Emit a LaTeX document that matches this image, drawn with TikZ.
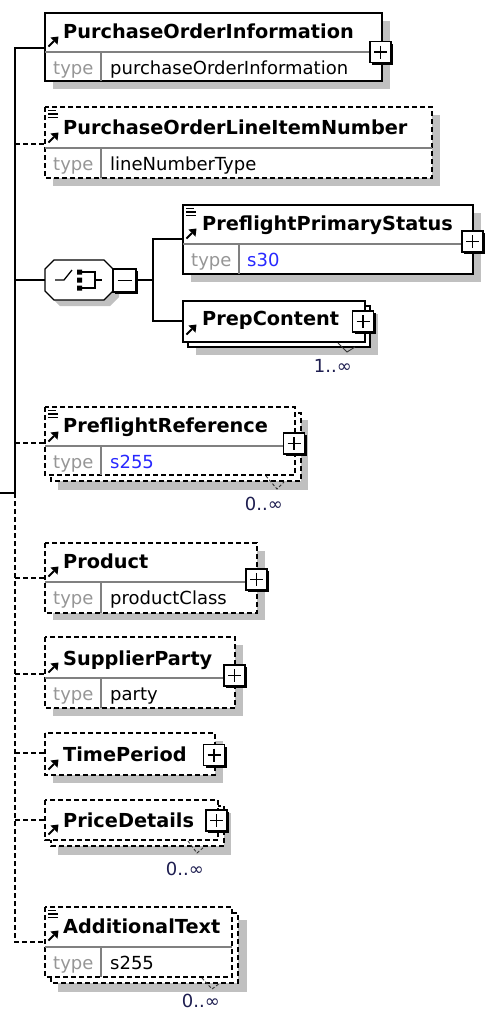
\documentclass[tikz,border=0pt]{standalone}
\usepackage{fontspec}
\setmainfont{DejaVu Sans}
\definecolor{shadowc}{RGB}{192,192,192}
\definecolor{typec}{RGB}{150,150,150}
\definecolor{divc}{RGB}{128,128,128}
\definecolor{bluev}{RGB}{40,40,255}
\definecolor{multc}{RGB}{30,30,80}
\tikzset{
 shad/.style={fill=shadowc, draw=none},
 sbox/.style={draw=black, fill=white, line width=1.4pt},
 dbox/.style={sbox, dash pattern=on 5pt off 3pt},
 divl/.style={draw=divc, line width=1.1pt},
 conn/.style={draw=black, line width=1.3pt},
 dconn/.style={conn, dash pattern=on 5pt off 3pt},
 ttl/.style={font=\fontsize{19.3}{22}\selectfont\bfseries, anchor=base west, inner sep=0pt},
 tlab/.style={font=\fontsize{18}{20}\selectfont, text=typec, anchor=base west, inner sep=0pt},
 tval/.style={font=\fontsize{18}{20}\selectfont, anchor=base west, inner sep=0pt},
 mult/.style={font=\fontsize{18}{20}\selectfont, text=multc, anchor=base east, inner sep=0pt},
 vmark/.style={draw=black!80, line width=0.9pt},
 plusbox/.pic={
   \fill[black] (-8.5,-8.5) rectangle (12.5,12.5);
   \filldraw[fill=white,draw=black,line width=1.3pt] (-10.5,-10.5) rectangle (10.5,10.5);
   \draw[line width=1.5pt] (-6.5,0)--(6.5,0) (0,-6.5)--(0,6.5);
 },
 minusbox/.pic={
   \fill[black] (-9.5,-9.5) rectangle (13.5,13.5);
   \filldraw[fill=white,draw=black,line width=1.3pt] (-11.5,-11.5) rectangle (11.5,11.5);
   \draw[line width=1.5pt] (-7,0)--(7,0);
 },
 arricon/.pic={
   \draw[line width=2pt] (3.5,-1.5) -- (9,-7);
   \fill (13.5,-11.5) -- (5.5,-10.5) -- (12.5,-3.5) -- cycle;
 },
 docicon/.pic={
   \draw[line width=1.1pt] (3,3.5)--(11,3.5) (3,7)--(13,7) (3,10.5)--(13,10.5);
 },
}
\begin{document}
\begin{tikzpicture}[x=1pt,y=-1pt]
\fill[white] (0,0) rectangle (486,1010);
\useasboundingbox (0,0) rectangle (486,1010);

% ---------- trunk coordinates ----------
\coordinate (parent) at (0,493);
\coordinate (t1) at (15,48);
\coordinate (t2) at (15,144);
\coordinate (t3) at (15,280);
\coordinate (tmid) at (15,493);
\coordinate (t6) at (15,443);
\coordinate (t7) at (15,578);
\coordinate (t8) at (15,674);
\coordinate (t9) at (15,753);
\coordinate (t10) at (15,820);
\coordinate (t11) at (15,942);

% ---------- E1 PurchaseOrderInformation ----------
\fill[shad] (53,21) rectangle (390,89);
\path[sbox] (45,13) rectangle (382,81);
\draw[divl] (45,52) -- (382,52) (101,52) -- (101,81);
\node[ttl] (n1t) at (63,38.5) {PurchaseOrderInformation};
\node[tlab] (n1l) at (53,74) {type};
\node[tval] (n1v) at (110,74) {purchaseOrderInformation};
\pic at (380.5,52) {plusbox};
\coordinate (in1) at (45,48);
\pic at (in1) {arricon};

% ---------- E2 PurchaseOrderLineItemNumber ----------
\fill[shad] (53,115) rectangle (440,186);
\path[dbox] (45,107) rectangle (432,178);
\draw[divl] (45,148) -- (432,148) (101,148) -- (101,178);
\node[ttl] (n2t) at (63,134.5) {PurchaseOrderLineItemNumber};
\node[tlab] (n2l) at (53,170) {type};
\node[tval] (n2v) at (110,170) {lineNumberType};
\pic at (45,107) {docicon};
\coordinate (in2) at (45,144);
\pic at (in2) {arricon};

% ---------- E3 choice ----------
\fill[shad] (60,266) -- (110,266) -- (119,275) -- (119,297) -- (110,306) -- (60,306) -- (51,297) -- (51,275) -- cycle;
\filldraw[fill=white,draw=black,line width=1.3pt] (54,260) -- (104,260) -- (113,269) -- (113,291) -- (104,300) -- (54,300) -- (45,291) -- (45,269) -- cycle;
\coordinate (in3) at (45,280);
\draw[line width=1.3pt] (55,280) -- (64,280) -- (72,270);
\fill (77,269.5) rectangle (82,274.5) (77,277.5) rectangle (82,282.5) (77,285.5) rectangle (82,290.5);
\draw[line width=1.2pt] (82,272) -- (95,272) -- (95,288) -- (82,288) (95,280) -- (102,280);
\pic at (124.5,280.5) {minusbox};
\coordinate (cho) at (136,280);
\coordinate (br) at (153,280);
\coordinate (brtop) at (153,239);
\coordinate (brbot) at (153,321);

% ---------- E4 PreflightPrimaryStatus ----------
\fill[shad] (191,213) rectangle (481,282);
\path[sbox] (183,205) rectangle (473,274);
\draw[divl] (183,244) -- (473,244) (239,244) -- (239,274);
\node[ttl] (n4t) at (202,230.5) {PreflightPrimaryStatus};
\node[tlab] (n4l) at (191,266.5) {type};
\node[tval, text=bluev] (n4v) at (247,266.5) {s30};
\pic at (472.5,241.5) {plusbox};
\pic at (183,205) {docicon};
\coordinate (in4) at (183,239);
\pic at (183,240) {arricon};

% ---------- E5 PrepContent ----------
\fill[shad] (196,314) rectangle (378,355);
\path[sbox] (188,306) rectangle (370,347);
\path[sbox] (183,301) rectangle (365,342);
\node[ttl] (n5t) at (202,325) {PrepContent};
\pic at (363,321.5) {plusbox};
\coordinate (in5) at (183,321);
\pic at (183,336) {arricon};
\draw[vmark] (338,343) -- (347,352) -- (355,347);
\node[mult] (n5m) at (352,372) {1..∞};

% ---------- E6 PreflightReference ----------
\fill[shad] (58,420) rectangle (308,490);
\path[dbox] (51,413) rectangle (301,481);
\path[dbox] (45,407) rectangle (295,475);
\draw[divl] (45,446) -- (295,446) (101,446) -- (101,475);
\node[ttl] (n6t) at (63,432) {PreflightReference};
\node[tlab] (n6l) at (53,468) {type};
\node[tval, text=bluev] (n6v) at (110,468) {s255};
\pic at (294,443.5) {plusbox};
\pic at (45,407) {docicon};
\coordinate (in6) at (45,443);
\pic at (in6) {arricon};
\draw[vmark, dash pattern=on 3pt off 2pt] (266,476) -- (277,489) -- (284,482);
\node[mult] (n6m) at (283,510) {0..∞};

% ---------- E7 Product ----------
\fill[shad] (53,551) rectangle (265,620);
\path[dbox] (45,543) rectangle (257,613);
\draw[divl] (45,582) -- (257,582) (101,582) -- (101,613);
\node[ttl] (n7t) at (63,568.5) {Product};
\node[tlab] (n7l) at (53,604) {type};
\node[tval] (n7v) at (110,604) {productClass};
\pic at (256.5,579.5) {plusbox};
\coordinate (in7) at (45,578);
\pic at (in7) {arricon};

% ---------- E8 SupplierParty ----------
\fill[shad] (53,645) rectangle (243,716);
\path[dbox] (45,637) rectangle (235,708);
\draw[divl] (45,678) -- (235,678) (101,678) -- (101,708);
\node[ttl] (n8t) at (63,665) {SupplierParty};
\node[tlab] (n8l) at (53,700.5) {type};
\node[tval] (n8v) at (110,700.5) {party};
\pic at (234.5,675.5) {plusbox};
\coordinate (in8) at (45,674);
\pic at (in8) {arricon};

% ---------- E9 TimePeriod ----------
\fill[shad] (53,741) rectangle (223,783);
\path[dbox] (45,733) rectangle (215,775);
\node[ttl] (n9t) at (63,761) {TimePeriod};
\pic at (214,755) {plusbox};
\coordinate (in9) at (45,753);
\pic at (45,771) {arricon};

% ---------- E10 PriceDetails ----------
\fill[shad] (58,813) rectangle (231,855);
\path[dbox] (51,806) rectangle (224,846);
\path[dbox] (45,800) rectangle (218,840);
\node[ttl] (n10t) at (63,827) {PriceDetails};
\pic at (216.5,820.5) {plusbox};
\coordinate (in10) at (45,820);
\pic at (45,836) {arricon};
\draw[vmark, dash pattern=on 3pt off 2pt] (188,841) -- (197,853) -- (204,847);
\node[mult] (n10m) at (204,875) {0..∞};

% ---------- E11 AdditionalText ----------
\fill[shad] (58,920) rectangle (247,992);
\path[dbox] (51,913) rectangle (238,983);
\path[dbox] (45,907) rectangle (232,977);
\draw[divl] (45,947) -- (232,947) (101,947) -- (101,977);
\node[ttl] (n11t) at (63,933.5) {AdditionalText};
\node[tlab] (n11l) at (53,969) {type};
\node[tval] (n11v) at (110,969) {s255};
\pic at (45,907) {docicon};
\coordinate (in11) at (45,942);
\pic at (in11) {arricon};
\draw[vmark, dash pattern=on 3pt off 2pt] (202,978) -- (212,989) -- (220,983);
\node[mult] (n11m) at (220,1007.5) {0..∞};

% ---------- connectors ----------
\draw[conn] (parent) -- (tmid);
\draw[conn] (in1) -- (t1) -- (tmid);
\draw[dconn] (tmid) -- (t11) -- (in11);
\draw[dconn] (t2) -- (in2);
\draw[conn] (t3) -- (in3);
\draw[dconn] (t6) -- (in6);
\draw[dconn] (t7) -- (in7);
\draw[dconn] (t8) -- (in8);
\draw[dconn] (t9) -- (in9);
\draw[dconn] (t10) -- (in10);
\draw[conn] (cho) -- (br);
\draw[conn] (in4) -- (brtop) -- (brbot) -- (in5);
\end{tikzpicture}
\end{document}
